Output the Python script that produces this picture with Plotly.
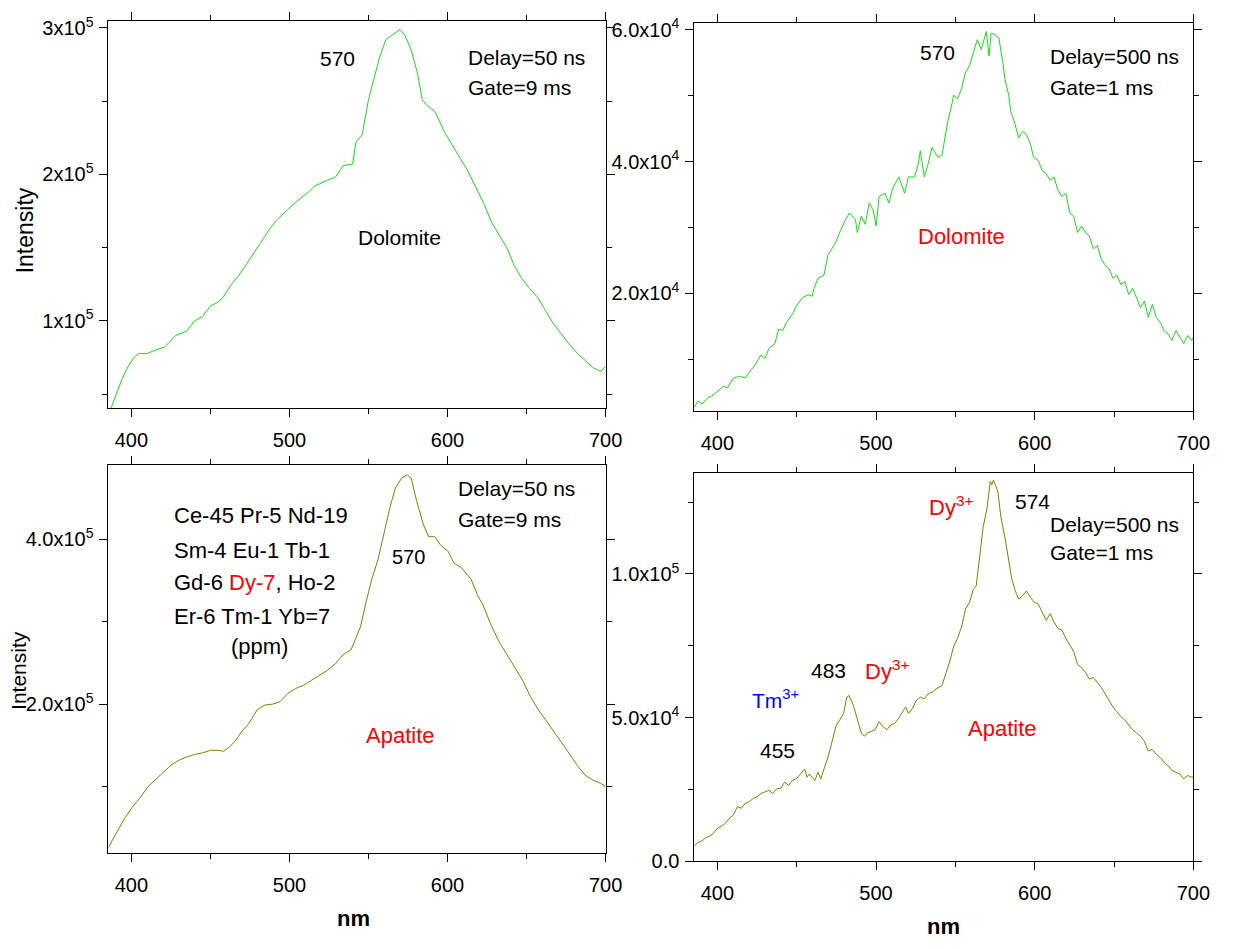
import plotly.graph_objects as go

W, H = 1241, 949
FONT = "Liberation Sans, Arial, sans-serif"

# ---- spectra: wavelength (nm) and intensity (counts, in thousands) ----
dol50_nm = [387, 391, 394, 398, 402, 405, 410, 415, 421, 428, 435, 440, 445, 450, 455,
            458, 463, 468, 475, 481, 487, 492, 499, 504, 512, 516, 524, 529, 534, 540,
            542, 546, 550, 554, 557, 561, 566, 570, 573, 577, 581, 584, 587, 592, 598,
            603, 608, 613, 618, 623, 628, 633, 638, 642, 647, 652, 657, 662, 667, 672,
            677, 682, 687, 692, 697, 700]
dol50_k = [40, 52, 60, 69, 75.5, 77.7, 77.7, 80, 82, 90, 93, 100,
           103, 110, 113, 116, 124.5, 131, 142, 152, 162, 169, 176,
           181, 188, 192, 196, 198, 206, 207, 222, 227, 251, 268,
           280, 292, 296, 299, 295, 285, 269, 251, 247, 243, 229,
           220, 211, 202, 191, 180, 167, 158, 149, 138, 129, 122,
           116, 107, 98, 91, 84, 78, 73, 68, 65.5, 69]

dol500_nm = [385.4, 387.9, 390.3, 394.1, 396.5, 400.2, 404.0, 406.4, 410.2, 413.9, 417.6,
             421.3, 423.8, 427.5, 430.0, 432.5, 436.2, 438.7, 441.1, 443.6, 447.3, 449.8,
             453.5, 457.2, 459.7, 461.0, 463.4, 467.2, 469.6, 472.1, 474.6, 477.1, 480.8,
             483.3, 487.0, 488.2, 490.7, 493.2, 495.7, 498.1, 500.1, 501.9, 505.6, 508.1,
             510.5, 514.3, 516.7, 518.0, 520.4, 524.2, 526.6, 527.9, 530.4, 532.8, 535.3,
             539.0, 541.5, 542.8, 545.2, 547.7, 548.9, 551.4, 553.9, 556.4, 558.9, 561.3,
             563.8, 566.3, 569.5, 571.2, 572.5, 575.0, 577.4, 579.9, 581.2, 583.6, 584.9,
             587.4, 589.8, 592.3, 594.8, 597.3, 599.3, 602.2, 604.7, 607.2, 609.7, 612.1,
             614.6, 617.1, 619.6, 622.1, 624.5, 627.0, 629.5, 632.0, 634.4, 636.9, 639.4,
             641.9, 644.4, 646.8, 649.3, 651.8, 654.3, 656.8, 659.2, 661.7, 664.2, 666.7,
             669.1, 671.6, 674.1, 676.6, 679.1, 681.5, 684.0, 686.5, 689.0, 691.4, 693.9,
             696.4, 698.9, 700.0]
dol500_k = [2.68, 3.67, 3.17, 4.17, 4.41, 5.16, 5.90, 5.65, 7.14, 7.39, 7.14,
            8.38, 9.13, 10.62, 10.12, 11.61, 12.36, 14.59, 14.34, 15.58, 16.82, 18.06,
            19.30, 19.80, 19.55, 20.79, 22.28, 22.78, 25.76, 26.75, 27.74, 29.23, 31.21,
            32.21, 31.21, 29.23, 31.71, 30.47, 33.70, 32.70, 30.22, 34.69, 35.19, 33.70,
            35.93, 37.67, 36.18, 35.19, 37.67, 37.67, 39.65, 41.64, 37.67, 39.65, 42.13,
            40.64, 40.89, 42.63, 46.10, 48.58, 50.07, 49.58, 51.07, 53.55, 54.54, 56.53,
            58.51, 57.02, 59.75, 56.03, 59.50, 59.26, 58.76, 55.04, 52.56, 50.07, 47.59,
            45.86, 43.62, 44.61, 44.12, 42.63, 40.64, 40.15, 38.66, 38.16, 37.17, 37.67,
            35.68, 34.69, 35.19, 32.21, 31.71, 29.23, 30.22, 29.23, 28.73, 26.75, 27.24,
            25.26, 24.27, 23.77, 22.28, 22.78, 21.29, 21.79, 19.80, 20.79, 19.30, 17.81,
            18.81, 16.33, 18.31, 16.33, 15.58, 14.34, 13.84, 12.85, 14.34, 13.35, 12.36,
            13.60, 12.85, 13.35]

apa50_nm = [385, 390.5, 395.5, 400.5, 405.5, 410.5, 415, 420, 425, 430, 435, 440, 445, 450,
            455, 458.5, 462, 466, 469.5, 474.5, 479.5, 484.5, 489.5, 494, 499, 504, 509, 514,
            519, 524, 529, 534, 539, 541, 545, 548.5, 552, 556, 560, 563.5, 567, 571, 574.5,
            577, 580.5, 584.5, 588, 592, 595.5, 600.5, 604, 609, 615, 619, 622.5, 627.5,
            632.5, 637.5, 642.5, 647.5, 652.5, 657.5, 662, 667, 672, 677, 682, 687, 692,
            697, 700]
apa50_k = [25, 43, 61, 75, 86.6, 100, 108, 118, 126, 132, 136, 139,
           141, 144, 144, 143, 148, 156, 166, 177, 193, 199, 200,
           203, 213, 219, 223, 229, 235, 241, 249, 260, 266, 276,
           294, 324, 351, 375, 407, 438, 462, 474, 478, 474, 446,
           419, 403, 403, 393, 385, 371, 365, 351, 332, 320, 296,
           276, 260, 245, 229, 209, 193, 181, 168, 154, 140, 126,
           114, 108, 104, 100]

apa500_nm = [385.4, 387.9, 390.3, 392.8, 395.3, 397.8, 400.2, 402.7, 405.2, 407.7, 410.2,
             412.6, 415.1, 417.6, 420.1, 422.6, 425.0, 427.5, 430.0, 432.5, 434.9, 437.4,
             439.9, 442.4, 444.9, 447.3, 449.8, 452.3, 455.0, 456.5, 458.0, 459.7, 461.5,
             463.4, 465.2, 467.2, 469.6, 472.1, 474.6, 477.1, 479.6, 481.5, 483.0, 485.7,
             488.2, 490.7, 492.7, 494.4, 496.9, 499.4, 501.9, 504.3, 506.8, 509.3, 511.8,
             514.3, 516.7, 518.7, 520.4, 522.9, 525.4, 527.9, 530.4, 532.8, 535.3, 537.8,
             541.5, 544.0, 546.5, 548.9, 551.4, 553.9, 556.4, 558.9, 561.3, 563.1, 565.1,
             567.5, 570.0, 572.0, 573.0, 574.0, 576.7, 578.7, 581.2, 583.6, 585.4, 587.4,
             589.8, 592.3, 594.8, 597.3, 599.8, 602.2, 604.7, 607.2, 609.7, 612.1, 614.6,
             617.1, 619.6, 622.1, 624.5, 627.0, 629.5, 632.0, 634.4, 636.9, 639.4, 641.9,
             644.4, 646.8, 649.3, 651.8, 654.3, 656.8, 659.2, 661.7, 664.2, 666.7, 669.1,
             671.6, 674.1, 676.6, 679.1, 681.5, 684.0, 686.5, 689.0, 691.4, 693.9, 696.4,
             698.9, 700.0]
apa500_k = [5.45, 6.59, 7.16, 8.30, 8.86, 10.00, 11.70, 12.27, 13.41, 15.11, 16.25,
            19.09, 18.52, 20.23, 20.80, 21.93, 22.50, 23.64, 24.20, 24.77, 23.64, 25.34,
            25.34, 27.61, 26.48, 28.18, 28.75, 30.45, 32.16, 29.32, 30.45, 29.32, 28.18,
            31.02, 28.75, 32.16, 36.14, 41.25, 46.93, 49.20, 51.48, 57.16, 57.73, 54.32,
            49.20, 44.66, 43.52, 44.66, 45.23, 45.80, 48.64, 46.93, 45.80, 47.50, 48.07,
            49.77, 52.05, 53.75, 51.48, 53.18, 56.02, 57.16, 56.59, 58.30, 58.86, 60.00,
            61.14, 65.11, 69.66, 74.77, 77.61, 81.59, 87.84, 90.11, 94.66, 95.80, 106.0,
            116.3, 123.1, 132.2, 131.0, 132.7, 128.8, 119.7, 112.8, 103.8, 98.64, 94.66,
            91.25, 92.39, 94.09, 91.82, 90.11, 89.55, 86.70, 83.86, 86.14, 83.30, 81.02,
            80.45, 77.61, 75.34, 73.07, 68.52, 67.39, 65.68, 63.41, 63.98, 62.27, 60.57,
            58.30, 56.02, 53.75, 52.05, 50.34, 49.20, 47.50, 45.80, 44.66, 43.52, 41.82,
            38.41, 38.98, 37.27, 36.14, 34.43, 33.30, 31.59, 31.02, 30.45, 28.75, 29.89,
            29.32, 29.32]

# ---- tick labels ----
x_ticks = [400, 500, 600, 700]
x_minor = [450, 550, 650]
p1_yticks = [1e5, 2e5, 3e5]
p1_ytext = ["1x10<sup>5</sup>", "2x10<sup>5</sup>", "3x10<sup>5</sup>"]
p1_yminor = [0.5e5, 1.5e5, 2.5e5]
p2_yticks = [2e4, 4e4, 6e4]
p2_ytext = ["2.0x10<sup>4</sup>", "4.0x10<sup>4</sup>", "6.0x10<sup>4</sup>"]
p2_yminor = [1e4, 3e4, 5e4]
p3_yticks = [2e5, 4e5]
p3_ytext = ["2.0x10<sup>5</sup>", "4.0x10<sup>5</sup>"]
p3_yminor = [1e5, 3e5]
p4_yticks = [0, 5e4, 1e5]
p4_ytext = ["0.0", "5.0x10<sup>4</sup>", "1.0x10<sup>5</sup>"]
p4_yminor = [2.5e4, 7.5e4, 1.25e5]

GREEN = "#12e012"
OLIVE = "#808000"

fig = go.Figure()
series = [
    (dol50_nm, dol50_k, GREEN, "x", "y"),
    (dol500_nm, dol500_k, GREEN, "x2", "y2"),
    (apa50_nm, apa50_k, OLIVE, "x3", "y3"),
    (apa500_nm, apa500_k, OLIVE, "x4", "y4"),
]
for xs, ks, col, xa, ya in series:
    fig.add_trace(go.Scatter(x=xs, y=[k * 1000 for k in ks], mode="lines",
                             line=dict(color=col, width=1),
                             xaxis=xa, yaxis=ya, showlegend=False, hoverinfo="skip"))


def hdom(left, right):
    return [left / W, right / W]


def vdom(top, bottom):
    return [1 - bottom / H, 1 - top / H]


def base_axis():
    return dict(showline=True, linecolor="black", linewidth=1, mirror="allticks",
                ticks="outside", ticklen=8, tickwidth=1, tickcolor="black",
                showgrid=False, zeroline=False,
                tickfont=dict(family=FONT, size=20, color="black"))


def xaxis(dom, anchor):
    a = base_axis()
    a.update(domain=dom, anchor=anchor, range=[385.5, 700], tickmode="array",
             tickvals=x_ticks, ticktext=[str(v) for v in x_ticks], ticklabelstandoff=6,
             minor=dict(tickmode="array", tickvals=x_minor, ticks="outside", ticklen=5,
                        tickcolor="black", showgrid=False))
    return a


def yaxis(dom, anchor, rng, vals, text, minor):
    a = base_axis()
    a.update(domain=dom, anchor=anchor, range=rng, tickmode="array",
             tickvals=vals, ticktext=text, ticklabelstandoff=2,
             minor=dict(tickmode="array", tickvals=minor, ticks="outside", ticklen=5,
                        tickcolor="black", showgrid=False))
    return a


fig.update_layout(
    width=W, height=H, margin=dict(l=0, r=0, t=0, b=0),
    paper_bgcolor="white", plot_bgcolor="white",
    font=dict(family=FONT, color="black"),
    xaxis=xaxis(hdom(110, 614), "y"),
    yaxis=yaxis(vdom(14, 409), "x", [40300, 304900], p1_yticks, p1_ytext, p1_yminor),
    xaxis2=xaxis(hdom(704, 1210), "y2"),
    yaxis2=yaxis(vdom(16, 412), "x2", [2100, 61090], p2_yticks, p2_ytext, p2_yminor),
    xaxis3=xaxis(hdom(110, 614), "y3"),
    yaxis3=yaxis(vdom(467, 862), "x3", [20000, 489700], p3_yticks, p3_ytext, p3_yminor),
    xaxis4=xaxis(hdom(704, 1210), "y4"),
    yaxis4=yaxis(vdom(475, 871), "x4", [0, 135100], p4_yticks, p4_ytext, p4_yminor),
)


def note(text, x, y, xref, yref, size=22, color="black", xanchor="center", bold=False):
    if bold:
        text = "<b>" + text + "</b>"
    fig.add_annotation(text=text, x=x, y=y, xref=xref, yref=yref, showarrow=False,
                       xanchor=xanchor, yanchor="middle",
                       font=dict(family=FONT, size=size, color=color))


RED = "#ff0000"
BLUE = "#0000ff"

# panel 1: dolomite, 50 ns delay
note("570", 530.4, 2.79e5, "x", "y", size=21)
note("Delay=50 ns", 612, 2.80e5, "x", "y", size=21, xanchor="left")
note("Gate=9 ms", 612, 2.59e5, "x", "y", size=21, xanchor="left")
note("Dolomite", 569.7, 1.57e5, "x", "y", size=21)

# panel 2: dolomite, 500 ns delay
note("570", 539, 5.66e4, "x2", "y2", size=21)
note("Delay=500 ns", 608.2, 5.60e4, "x2", "y2", size=21, xanchor="left")
note("Gate=1 ms", 608.2, 5.13e4, "x2", "y2", size=21, xanchor="left")
note("Dolomite", 554, 2.86e4, "x2", "y2", size=22, color=RED)

# panel 3: apatite, 50 ns delay
note("Delay=50 ns", 605.2, 4.608e5, "x3", "y3", size=21, xanchor="left")
note("Gate=9 ms", 605.2, 4.241e5, "x3", "y3", size=21, xanchor="left")
note("Ce-45 Pr-5 Nd-19", 425.6, 4.288e5, "x3", "y3", size=22, xanchor="left")
note("Sm-4 Eu-1 Tb-1", 425.6, 3.861e5, "x3", "y3", size=22, xanchor="left")
note("Gd-6 <span style='color:#ff0000'>Dy-7</span>, Ho-2", 425.6, 3.47e5, "x3", "y3",
     size=22, xanchor="left")
note("Er-6 Tm-1 Yb=7", 425.6, 3.067e5, "x3", "y3", size=22, xanchor="left")
note("(ppm)", 481.1, 2.70e5, "x3", "y3", size=22)
note("570", 575.3, 3.78e5, "x3", "y3", size=20)
note("Apatite", 570.3, 1.62e5, "x3", "y3", size=22, color=RED)

# panel 4: apatite, 500 ns delay
note("Dy<sup>3+</sup>", 532.2, 1.235e5, "x4", "y4", size=22, color=RED, xanchor="left")
note("574", 598.8, 1.251e5, "x4", "y4", size=21)
note("Delay=500 ns", 608.2, 1.172e5, "x4", "y4", size=21, xanchor="left")
note("Gate=1 ms", 608.2, 1.074e5, "x4", "y4", size=21, xanchor="left")
note("483", 469.9, 6.65e4, "x4", "y4", size=21)
note("Dy<sup>3+</sup>", 491.7, 6.65e4, "x4", "y4", size=22, color=RED, xanchor="left")
note("Tm<sup>3+</sup>", 420.7, 5.65e4, "x4", "y4", size=21, color=BLUE, xanchor="left")
note("455", 438.2, 3.85e4, "x4", "y4", size=21)
note("Apatite", 579.6, 4.63e4, "x4", "y4", size=22, color=RED)

# axis titles
note("Intensity", 25 / W, 1 - 228 / H, "paper", "paper", size=23)
fig.layout.annotations[-1].textangle = -90
note("Intensity", 18 / W, 1 - 676 / H, "paper", "paper", size=21)
fig.layout.annotations[-1].textangle = -90
note("nm", 358.5 / W, 1 - 929 / H, "paper", "paper", size=22, bold=True)
note("nm", 956.7 / W, 1 - 937 / H, "paper", "paper", size=22, bold=True)

# keep the page exactly the size of the figure (no body margin, no scrollbars)
page_css = ("document.documentElement.style.margin='0';"
            "document.documentElement.style.overflow='hidden';"
            "document.body.style.margin='0';"
            "document.body.style.overflow='hidden';")
fig.write_html("out.html", post_script=page_css)
